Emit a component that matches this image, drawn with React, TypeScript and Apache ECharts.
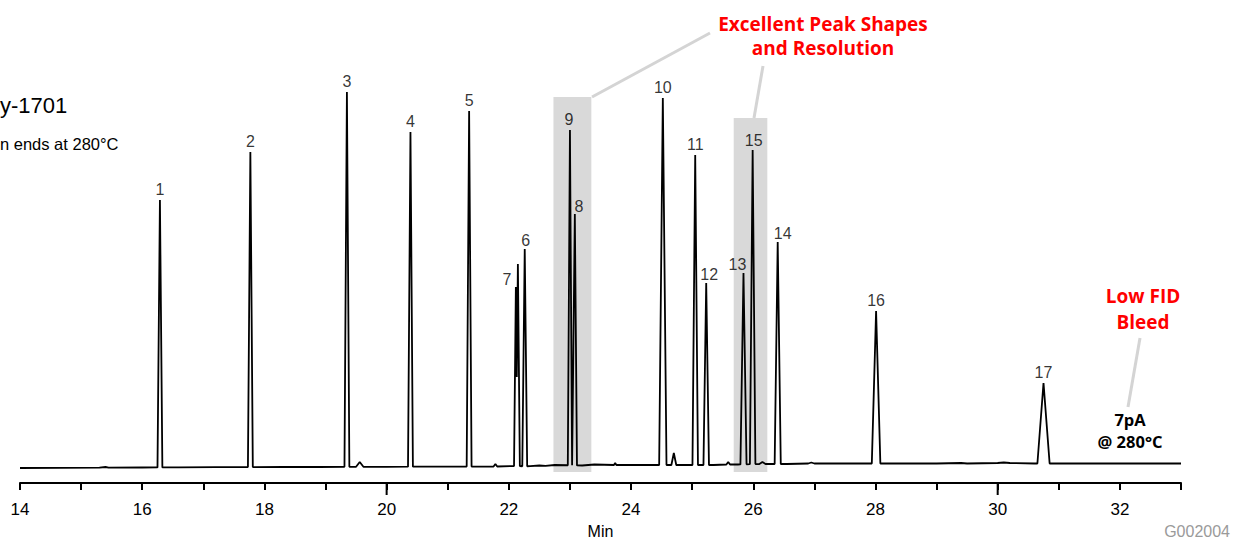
import React, { useEffect, useRef } from "react";
import * as echarts from "echarts";

// Peak table (retention time in min, height in arbitrary signal units, base half-width in min)
const peakLabels = ["1", "2", "3", "4", "5", "6", "9", "8", "10", "11", "12", "13", "15", "14", "16", "17"];
const peakTimes = [16.29, 17.77, 19.35, 20.39, 21.35, 22.26, 23.0, 23.08, 24.52, 25.05, 25.23, 25.84, 25.99, 26.4, 28.01, 30.75];
const peakHeights = [268, 316, 376, 336, 357, 219, 338, 254, 370, 313, 185, 195, 318, 226, 157, 85];
const peakHalfWidths = [0.04, 0.04, 0.04, 0.04, 0.04, 0.04, 0.035, 0.035, 0.06, 0.045, 0.045, 0.05, 0.045, 0.05, 0.07, 0.1];

// Peak 7 is an unresolved doublet: [time, signal]
const peak7Trace = [
  [22.085, 2], [22.115, 181], [22.13, 91], [22.148, 204], [22.18, 2],
];
const peak7Label = { time: 22.115, height: 181 };

// Baseline with small bumps: [time, signal]
const baselineTrace = [
  [14.0, 0], [15.3, 0.3], [15.4, 1], [15.45, 0.3], [16.0, 0.5], [16.6, 0.7], [17.2, 0.8],
  [18.3, 1], [18.9, 1], [19.5, 1.2], [19.56, 6], [19.62, 1.2], [19.7, 1.2], [20.0, 1.2],
  [20.8, 1.4], [21.75, 1.5], [21.78, 4], [21.81, 1.5], [22.35, 1.8], [22.5, 2.5],
  [22.6, 2.2], [22.75, 3], [23.2, 2.5], [23.4, 3.5], [23.72, 3], [23.74, 5], [23.76, 3],
  [24.3, 3], [24.66, 3], [24.7, 15], [24.74, 3], [24.9, 3], [25.15, 3], [25.35, 3],
  [25.56, 3.5], [25.59, 6], [25.62, 3.5], [25.75, 3.5], [26.1, 4], [26.15, 6], [26.2, 4],
  [26.55, 4], [26.9, 4.5], [26.95, 5.5], [27.0, 4.5], [27.9, 4.5], [28.2, 4.5], [29.0, 4.5],
  [29.4, 5], [29.5, 4.5], [30.0, 5], [30.1, 5.5], [30.2, 5], [30.6, 4.5], [31.0, 4.5],
  [31.6, 4.5], [32.5, 4.5], [33.0, 4.5],
];

// Highlight boxes [startTime, endTime, top signal]
const highlightStarts = [22.73, 25.68];
const highlightEnds = [23.35, 26.23];
const highlightTops = [371, 350];
const highlightBottom = -4;

const xTickLabels = [14, 16, 18, 20, 22, 24, 26, 28, 30, 32];
const longTicks = [20, 30];
const xMin = 14;
const xMax = 33;
const yMin = -15;
const yMax = 435;

function baselineAt(t: number): number {
  for (let i = 0; i < baselineTrace.length - 1; i++) {
    const [t0, v0] = baselineTrace[i];
    const [t1, v1] = baselineTrace[i + 1];
    if (t >= t0 && t <= t1) return t1 === t0 ? v0 : v0 + ((v1 - v0) * (t - t0)) / (t1 - t0);
  }
  return baselineTrace[baselineTrace.length - 1][1];
}

function buildTrace(): number[][] {
  const pts: number[][] = [];
  const windows: number[][] = [];
  peakTimes.forEach((t, i) => {
    const hw = peakHalfWidths[i];
    windows.push([t - hw, t + hw]);
    pts.push([t - hw, baselineAt(t - hw)]);
    pts.push([t, peakHeights[i]]);
    pts.push([t + hw, baselineAt(t + hw)]);
  });
  windows.push([peak7Trace[0][0], peak7Trace[peak7Trace.length - 1][0]]);
  peak7Trace.forEach((p) => pts.push([p[0], p[1]]));
  baselineTrace.forEach((p) => {
    const inside = windows.some((w) => p[0] >= w[0] && p[0] <= w[1]);
    if (!inside) pts.push([p[0], p[1]]);
  });
  pts.sort((a, b) => a[0] - b[0]);
  return pts;
}

// label offsets (styling) keyed by label
const labelOffsets: Record<string, number[]> = {
  "7": [-9, 5],
  "8": [4, 5],
  "13": [-6, 4],
  "14": [5, 4],
  "12": [3, 4],
  "6": [1, 4],
  "9": [-1, 2],
  "15": [1, 3],
};

export default function App() {
  const ref = useRef<HTMLDivElement>(null);
  useEffect(() => {
    document.body.style.margin = "0";
    if (!ref.current) return;
    const chart = echarts.init(ref.current, null, { renderer: "svg" });
    const trace = buildTrace();
    const labelData = peakLabels.map((lab, i) => ({
      value: [peakTimes[i], peakHeights[i]],
      name: lab,
      label: { offset: labelOffsets[lab] || [0, 2], color: "#000" },
    }));
    labelData.push({
      value: [peak7Label.time, peak7Label.height],
      name: "7",
      label: { offset: labelOffsets["7"], color: "#000" },
    });

    const font = "'Liberation Sans', Arial, Helvetica, sans-serif";
    const boldFont = "'Open Sans', 'Noto Sans', sans-serif";

    const textEl = (x: number, y: number, text: string, fill: string, fontSpec: string, align = "center") => ({
      type: "text",
      x,
      y,
      style: { text, fill, font: fontSpec, align, verticalAlign: "middle" },
    });

    chart.setOption({
      animation: false,
      backgroundColor: "#ffffff",
      grid: { left: 20, right: 52, top: 33, bottom: 58, containLabel: false, outerBoundsMode: "none" },
      xAxis: {
        type: "value",
        min: xMin,
        max: xMax,
        interval: 1,
        axisLine: { show: true, onZero: false, lineStyle: { color: "#000", width: 2 } },
        axisTick: { show: true, length: 7, lineStyle: { color: "#000", width: 2 } },
        axisLabel: {
          show: true,
          margin: 18,
          color: "#000",
          fontSize: 17,
          fontFamily: font,
          formatter: (v: number) => (xTickLabels.indexOf(v) >= 0 ? String(v) : ""),
        },
        splitLine: { show: false },
        name: "Min",
        nameLocation: "middle",
        nameGap: 40,
        nameTextStyle: { color: "#000", fontSize: 16, fontFamily: font },
      },
      yAxis: { type: "value", min: yMin, max: yMax, show: false, splitLine: { show: false } },
      graphic: [
        {
          type: "line",
          shape: { x1: 592, y1: 97, x2: 710, y2: 33 },
          style: { stroke: "#d4d4d4", lineWidth: 3 },
        },
        {
          type: "line",
          shape: { x1: 763, y1: 66, x2: 754, y2: 118 },
          style: { stroke: "#d4d4d4", lineWidth: 3 },
        },
        {
          type: "line",
          shape: { x1: 1140, y1: 338, x2: 1128, y2: 407 },
          style: { stroke: "#d4d4d4", lineWidth: 3 },
        },
        textEl(823, 24, "Excellent Peak Shapes", "#ff0000", `bold 19px ${boldFont}`),
        textEl(823, 48, "and Resolution", "#ff0000", `bold 19px ${boldFont}`),
        textEl(1143, 296, "Low FID", "#ff0000", `bold 19px ${boldFont}`),
        textEl(1143, 322, "Bleed", "#ff0000", `bold 19px ${boldFont}`),
        textEl(1130, 419, "7pA", "#000", `bold 16.5px ${boldFont}`),
        textEl(1130, 441, "@ 280°C", "#000", `bold 16.5px ${boldFont}`),
        textEl(0, 105, "y-1701", "#000", `22px ${font}`, "left"),
        textEl(0, 144, "n ends at 280°C", "#000", `16.5px ${font}`, "left"),
        textEl(1230, 531, "G002004", "#9a9a9a", `16px ${font}`, "right"),
      ],
      series: [
        {
          type: "line",
          name: "highlight",
          data: [],
          z: 1,
          markArea: {
            silent: true,
            itemStyle: { color: "#d9d9d9", opacity: 1 },
            data: highlightStarts.map((s, i) => [
              { xAxis: s, yAxis: highlightBottom },
              { xAxis: highlightEnds[i], yAxis: highlightTops[i] },
            ]),
          },
        },
        {
          type: "line",
          name: "trace",
          data: trace,
          z: 3,
          showSymbol: false,
          symbol: "none",
          lineStyle: { color: "#000", width: 1.8 },
          clip: false,
        },
        {
          type: "scatter",
          name: "labels",
          data: labelData,
          z: 4,
          symbolSize: 0,
          itemStyle: { color: "#000" },
          label: {
            show: true,
            position: "top",
            formatter: (p: any) => p.name,
            color: "#000",
            textBorderWidth: 0,
            fontSize: 16,
            fontFamily: font,
          },
        },
        {
          // longer ticks at 20 and 30 on the time axis
          type: "scatter",
          name: "longTicks",
          data: longTicks.map((v) => [v, yMin]),
          clip: false,
          silent: true,
          z: 5,
          symbol: "rect",
          symbolSize: [2, 12],
          symbolOffset: [0, 6],
          itemStyle: { color: "#000", opacity: 1 },
        },
      ],
    });

    return () => chart.dispose();
  }, []);
  return <div ref={ref} style={{ width: 1233, height: 541 }} />;
}
